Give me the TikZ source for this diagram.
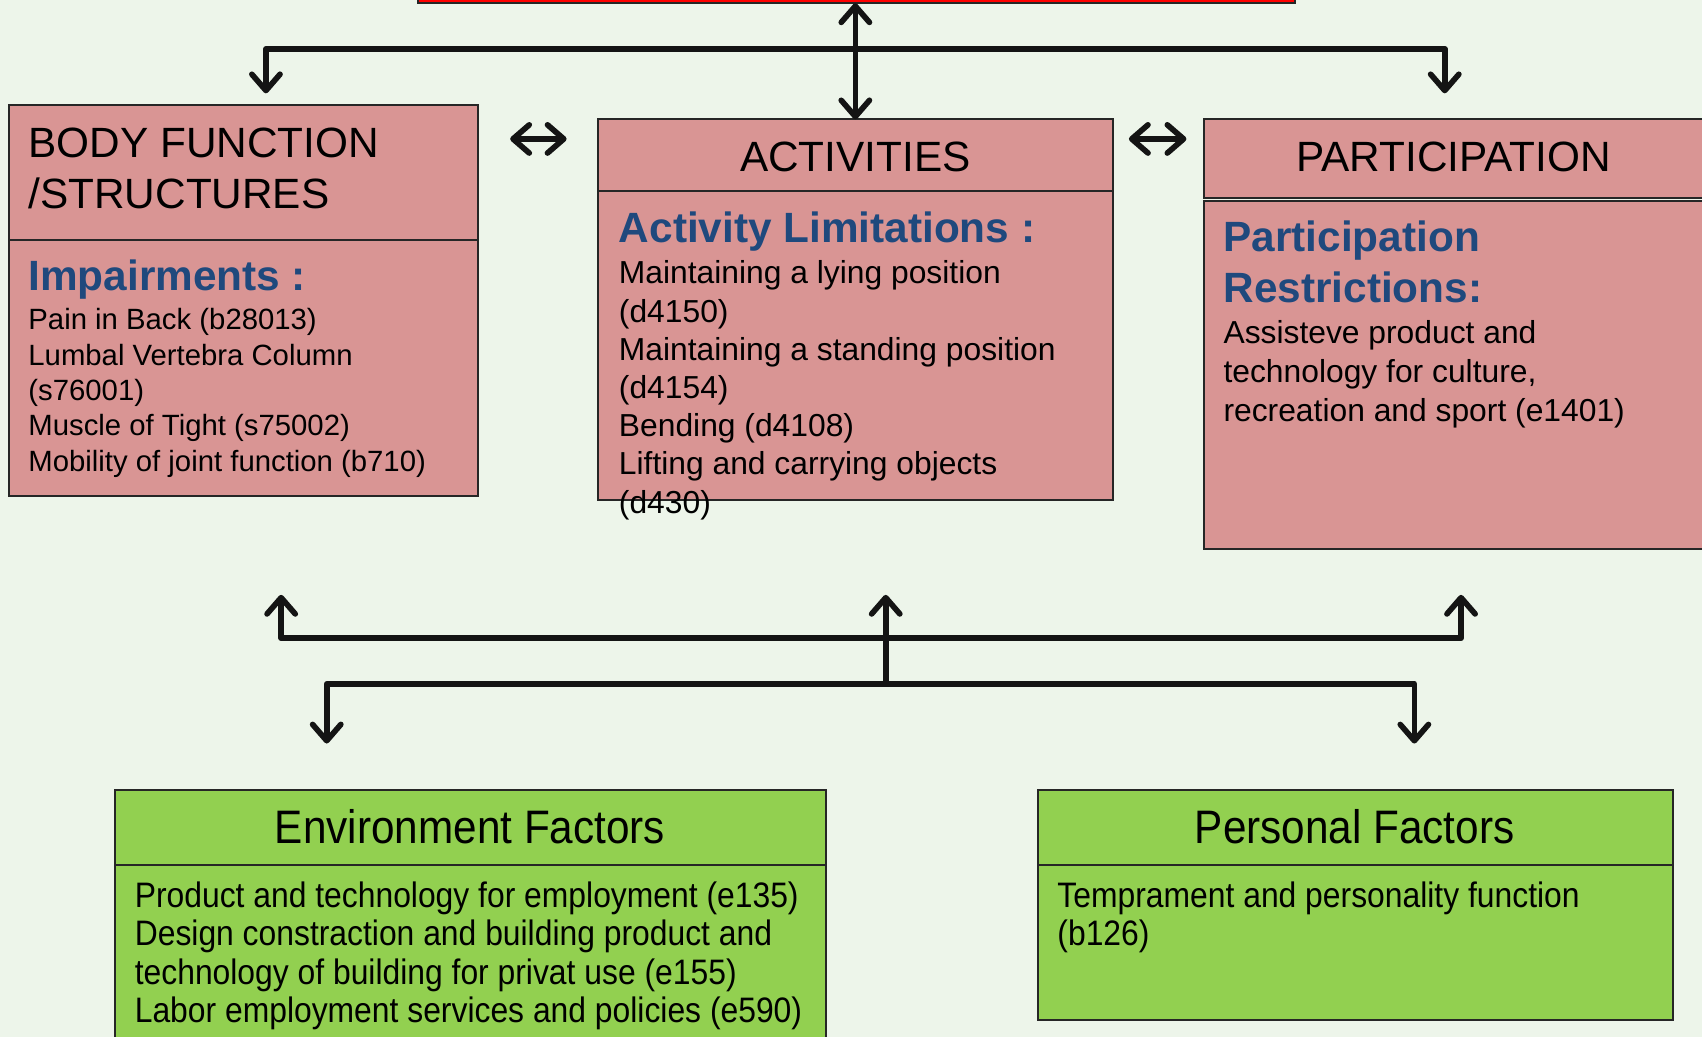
\documentclass[tikz,border=0pt]{standalone}
\usepackage{fontspec}
\setmainfont{Liberation Sans}
\newfontfamily\narrowsf[FakeStretch=0.9]{Liberation Sans}
\usetikzlibrary{arrows.meta}
\definecolor{bgc}{HTML}{EDF5EA}
\definecolor{pinkc}{HTML}{D99594}
\definecolor{greenc}{HTML}{92D050}
\definecolor{bluec}{HTML}{1F497D}
\definecolor{redc}{HTML}{FF0000}
\begin{document}
\begin{tikzpicture}[x=1pt,y=-1pt,
  box/.style={draw=black!85, line width=1.8pt, inner sep=0, outer sep=0, anchor=north west},
  pbox/.style={box, fill=pinkc},
  gbox/.style={box, fill=greenc},
  rbox/.style={box, fill=redc},
  hd/.style={inner sep=0, font=\fontsize{39}{47}\selectfont},
  sub/.style={inner sep=0, anchor=base west, text=bluec, font=\bfseries\fontsize{39}{47}\selectfont},
  bta/.style={inner sep=0, anchor=base west, font=\fontsize{27}{32}\selectfont},
  btb/.style={inner sep=0, anchor=base west, font=\fontsize{29.3}{35}\selectfont},
  ghd/.style={inner sep=0, anchor=base, font=\narrowsf\fontsize{43.3}{52}\selectfont},
  gbt/.style={inner sep=0, anchor=base west, font=\narrowsf\fontsize{32.6}{39}\selectfont},
  tip/.style={line width=5.2pt, draw=black!92, line cap=round, line join=round},
  arr/.style={tip, -{Straight Barb[length=15pt, width=26pt, round]}},
  darr/.style={tip, {Straight Barb[length=15pt, width=26pt, round]}-{Straight Barb[length=15pt, width=26pt, round]}}
]
\fill[bgc] (0,0) rectangle (1568,955);
\useasboundingbox (0,0) rectangle (1568,955);

% boxes
\node[rbox, minimum width=808, minimum height=33] (red) at (385,-30) {};
\node[pbox, minimum width=432, minimum height=124] (bodyH) at (8,97) {};
\node[pbox, minimum width=432, minimum height=236] (bodyB) at (8,221) {};
\node[pbox, minimum width=474, minimum height=66] (actH) at (551,110) {};
\node[pbox, minimum width=474, minimum height=285] (actB) at (551,176) {};
\node[pbox, minimum width=480, minimum height=72] (parH) at (1109,110) {};
\node[pbox, minimum width=480, minimum height=321] (parB) at (1109,185) {};
\node[gbox, minimum width=655, minimum height=69] (envH) at (106,728) {};
\node[gbox, minimum width=655, minimum height=180] (envB) at (106,797) {};
\node[gbox, minimum width=585, minimum height=69] (perH) at (956,728) {};
\node[gbox, minimum width=585, minimum height=143] (perB) at (956,797) {};

% body function texts
\node[hd, anchor=base west] (bt1) at (26,145) {BODY FUNCTION};
\node[hd, anchor=base west] (bt2) at (26,192) {/STRUCTURES};
\node[sub] (bs) at (26,268) {Impairments :};
\node[bta] (b1) at (26,304) {Pain in Back (b28013)};
\node[bta] (b2) at (26,336.5) {Lumbal Vertebra Column};
\node[bta] (b3) at (26,369) {(s76001)};
\node[bta] (b4) at (26,401.5) {Muscle of Tight (s75002)};
\node[bta] (b5) at (26,434) {Mobility of joint function (b710)};

% activities texts
\node[hd, anchor=base] (at) at (788,158) {ACTIVITIES};
\node[sub] (as) at (570,223) {Activity Limitations :};
\node[btb] (a1) at (570,261.5) {Maintaining a lying position};
\node[btb] (a2) at (570,296.7) {(d4150)};
\node[btb] (a3) at (570,331.9) {Maintaining a standing position};
\node[btb] (a4) at (570,367.1) {(d4154)};
\node[btb] (a5) at (570,402.3) {Bending (d4108)};
\node[btb] (a6) at (570,437.5) {Lifting and carrying objects};
\node[btb] (a7) at (570,472.7) {(d430)};

% participation texts
\node[hd, anchor=base] (pt) at (1339,158) {PARTICIPATION};
\node[sub] (ps1) at (1127,232) {Participation};
\node[sub] (ps2) at (1127,279) {Restrictions:};
\node[btb] (p1) at (1127,316.5) {Assisteve product and};
\node[btb] (p2) at (1127,352.5) {technology for culture,};
\node[btb] (p3) at (1127,388.5) {recreation and sport (e1401)};

% environment texts
\node[ghd] (et) at (433,777) {Environment Factors};
\node[gbt] (e1) at (124,836) {Product and technology for employment (e135)};
\node[gbt] (e2) at (124,871.3) {Design constraction and building product and};
\node[gbt] (e3) at (124,906.6) {technology of building for privat use (e155)};
\node[gbt] (e4) at (124,941.9) {Labor employment services and policies (e590)};

% personal texts
\node[ghd] (pft) at (1248,777) {Personal Factors};
\node[gbt] (f1) at (974,836) {Temprament and personality function};
\node[gbt] (f2) at (974,871.3) {(b126)};

% top connectors
\coordinate (topmid) at (788,45);
\coordinate (topL) at (245,86);
\coordinate (topR) at (1331,86);
\draw[darr] (red.south -| actH.north) -- (actH.north);
\draw[arr] (topmid) -| (topL);
\draw[arr] (topmid) -| (topR);

% side double arrows
\coordinate (d1l) at (470,128);
\coordinate (d1r) at (522,128);
\coordinate (d2l) at (1040,128);
\coordinate (d2r) at (1093,128);
\draw[darr] (d1l) -- (d1r);
\draw[darr] (d2l) -- (d2r);

% bottom connectors
\coordinate (upmid) at (816,588);
\coordinate (upL) at (259,548);
\coordinate (upR) at (1346,548);
\coordinate (upC) at (816,548);
\coordinate (lowmid) at (816,630);
\coordinate (downL) at (301,685);
\coordinate (downR) at (1303,685);
\draw[arr] (upmid) -| (upL);
\draw[arr] (upmid) -| (upR);
\draw[arr] (lowmid) -- (upC);
\draw[arr] (lowmid) -| (downL);
\draw[arr] (lowmid) -| (downR);
\end{tikzpicture}
\end{document}
